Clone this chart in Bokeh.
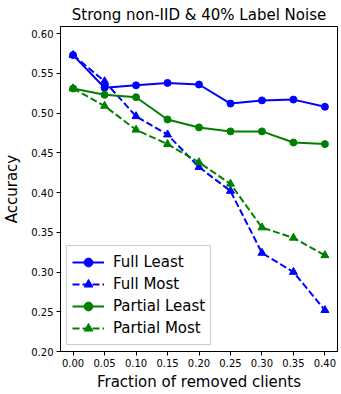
from bokeh.plotting import figure
from bokeh.models import FixedTicker, PrintfTickFormatter, Range1d, Legend, LegendItem
from bokeh.embed import file_html
from bokeh.resources import INLINE

fractions = [0.00, 0.05, 0.10, 0.15, 0.20, 0.25, 0.30, 0.35, 0.40]
full_least = [0.573, 0.532, 0.535, 0.538, 0.536, 0.512, 0.516, 0.517, 0.508]
full_most = [0.573, 0.540, 0.496, 0.473, 0.432, 0.402, 0.324, 0.300, 0.252]
partial_least = [0.531, 0.523, 0.520, 0.492, 0.482, 0.477, 0.477, 0.463, 0.461]
partial_most = [0.531, 0.509, 0.479, 0.461, 0.438, 0.411, 0.356, 0.343, 0.321]
x_ticks = [0.00, 0.05, 0.10, 0.15, 0.20, 0.25, 0.30, 0.35, 0.40]
y_ticks = [0.20, 0.25, 0.30, 0.35, 0.40, 0.45, 0.50, 0.55, 0.60]

FONT = "DejaVu Sans"

p = figure(frame_width=277, frame_height=325, output_backend="svg", toolbar_location=None,
           x_range=Range1d(-0.02, 0.42), y_range=Range1d(0.20, 0.609),
           min_border_left=49, min_border_right=4, min_border_bottom=30, min_border_top=0)

p.title.text = "Strong non-IID & 40% Label Noise"
p.title.align = "center"
p.title.text_font = FONT
p.title.text_font_size = "15px"
p.title.text_font_style = "normal"
p.title.text_color = "black"
p.title.offset = 0
p.title.standoff = 6

p.xgrid.visible = False
p.ygrid.visible = False
p.outline_line_color = "black"
p.outline_line_width = 1
p.outline_line_alpha = 1

for ax, ticks, lab in ((p.xaxis, x_ticks, "Fraction of removed clients"), (p.yaxis, y_ticks, "Accuracy")):
    ax.ticker = FixedTicker(ticks=ticks)
    ax.formatter = PrintfTickFormatter(format="%.2f")
    ax.axis_label = lab
    ax.axis_label_text_font = FONT
    ax.axis_label_text_font_size = "15px"
    ax.axis_label_text_font_style = "normal"
    ax.axis_label_text_color = "black"
    ax.major_label_text_font = FONT
    ax.major_label_text_font_size = "10px"
    ax.major_label_text_color = "black"
    ax.minor_tick_line_color = None
    ax.major_tick_out = 4
    ax.major_tick_in = 0
    ax.major_tick_line_color = "black"
    ax.axis_line_color = "black"
p.xaxis.axis_label_standoff = 3
p.yaxis.axis_label_standoff = 7
p.xaxis.major_label_standoff = 3
p.yaxis.major_label_standoff = 3

items = []
series = [
    ("Full Least", full_least, "#0000ff", "solid", "circle"),
    ("Full Most", full_most, "#0000ff", "7 3", "triangle"),
    ("Partial Least", partial_least, "#008000", "solid", "circle"),
    ("Partial Most", partial_most, "#008000", "7 3", "triangle"),
]
for name, ys, col, dash, mk in series:
    l = p.line(fractions, ys, line_color=col, line_width=2, line_dash=dash)
    s = p.scatter(fractions, ys, marker=mk, size=7 if mk == "circle" else 8,
                  fill_color=col, line_color=col)
    items.append(LegendItem(label=name, renderers=[l, s]))

legend = Legend(items=items, location="bottom_left")
legend.label_text_font = FONT
legend.label_text_font_size = "15px"
legend.label_text_color = "black"
legend.border_line_color = "#cccccc"
legend.border_line_alpha = 1
legend.background_fill_alpha = 0.8
legend.spacing = 0
legend.padding = 5
legend.margin = 6
legend.glyph_width = 32
legend.label_height = 22
legend.glyph_height = 22
legend.label_standoff = 9
p.add_layout(legend, "center")

open("out.html", "w").write(file_html(p, INLINE))
